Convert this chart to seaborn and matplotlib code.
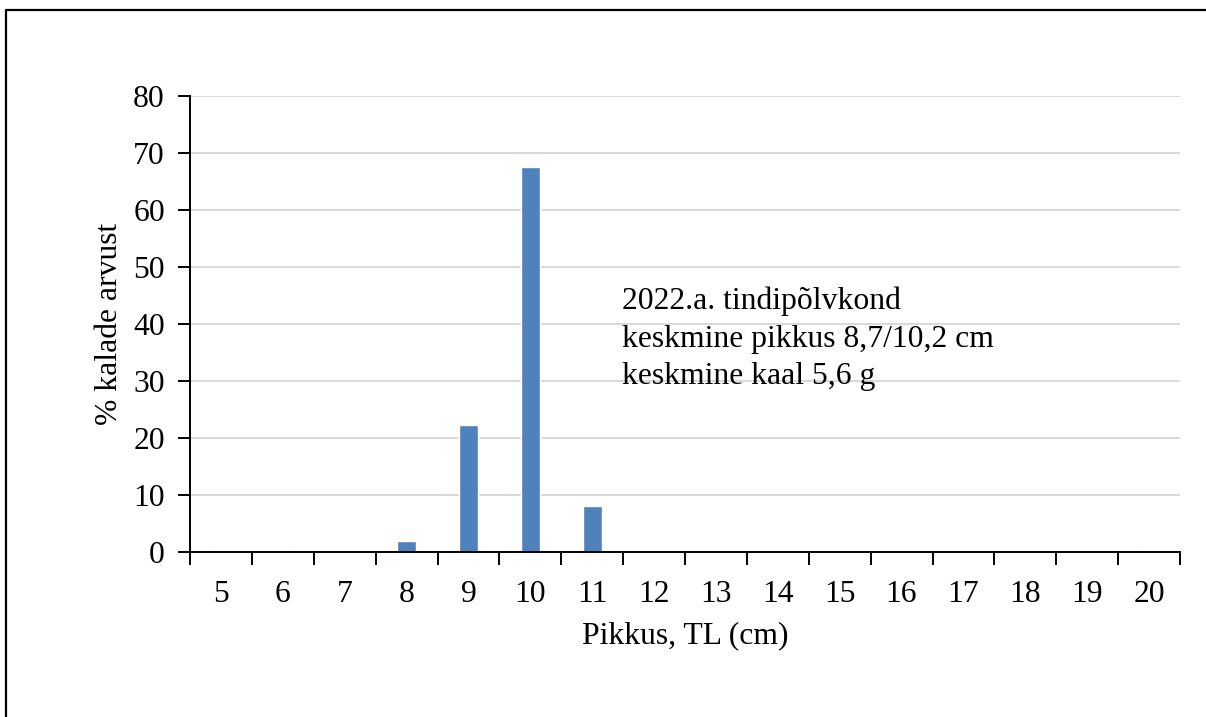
import matplotlib
matplotlib.use("Agg")
import matplotlib.pyplot as plt
from matplotlib.lines import Line2D
from matplotlib.ticker import FixedLocator
import seaborn as sns
import pandas as pd

# ---- data ----
lengths = ["5", "6", "7", "8", "9", "10", "11", "12", "13", "14", "15", "16", "17", "18", "19", "20"]
percent = [0, 0, 0, 2.0, 22.3, 67.5, 8.1, 0, 0, 0, 0, 0, 0, 0, 0, 0]
y_ticks = [0, 10, 20, 30, 40, 50, 60, 70, 80]
annotation = ["2022.a. tindipõlvkond", "keskmine pikkus 8,7/10,2 cm", "keskmine kaal 5,6 g"]
x_label = "Pikkus, TL (cm)"
y_label = "% kalade arvust"

sns.set_theme(style="white")
plt.rcParams["font.family"] = ["Liberation Serif", "DejaVu Serif"]

df = pd.DataFrame({"len": lengths, "pct": percent})

fig = plt.figure(figsize=(12.06, 7.17), dpi=100)
ax = fig.add_axes([190 / 1206, 1 - 552 / 717, 990 / 1206, 456 / 717])

sns.barplot(data=df, x="len", y="pct", order=lengths, color="#4F81BD",
            saturation=1, width=0.31, ax=ax, zorder=3)

ax.set_xlim(-0.5, len(lengths) - 0.5)
ax.set_ylim(0, 80)
ax.set_yticks(y_ticks)
ax.yaxis.grid(True, color="#D9D9D9", linewidth=1.4, zorder=0)
ax.set_axisbelow(True)

for s in ["top", "right"]:
    ax.spines[s].set_visible(False)
for s in ["left", "bottom"]:
    ax.spines[s].set_color("black")
    ax.spines[s].set_linewidth(1.4)
    ax.spines[s].set_zorder(4)

fs = 22.8
ax.tick_params(axis="y", which="major", direction="out", length=9, width=1.4,
               color="black", labelsize=fs, pad=9, left=True)
ax.tick_params(axis="x", which="major", length=0, labelsize=fs, pad=20, bottom=True)
ax.xaxis.set_minor_locator(FixedLocator([i - 0.5 for i in range(len(lengths) + 1)]))
ax.tick_params(axis="x", which="minor", direction="out", length=9, width=1.4,
               color="black", bottom=True)
for lbl in ax.get_xticklabels() + ax.get_yticklabels():
    lbl.set_color("black")

ax.set_xlabel(x_label, fontsize=fs, color="black", labelpad=9)
ax.set_ylabel(y_label, fontsize=fs, color="black", labelpad=6.5)

baselines = [309, 346.5, 384]
for txt, yb in zip(annotation, baselines):
    ax.text((622 - 190) / 990, (552 - yb) / 456, txt, transform=ax.transAxes,
            fontsize=fs, color="black", va="baseline", ha="left", zorder=5)

# outer frame (top and left edges)
fig.add_artist(Line2D([6 / 1206, 1], [1 - 10 / 717, 1 - 10 / 717],
                      transform=fig.transFigure, color="black", linewidth=1.6))
fig.add_artist(Line2D([6 / 1206, 6 / 1206], [0, 1 - 10 / 717],
                      transform=fig.transFigure, color="black", linewidth=1.6))

fig.savefig("out.png", dpi=100, facecolor="white")
